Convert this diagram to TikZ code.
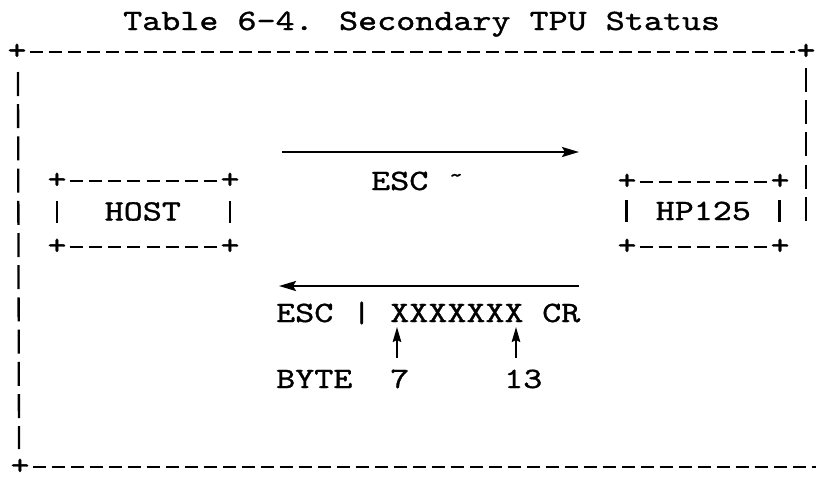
\documentclass[tikz,border=0pt]{standalone}
\usepackage{fontspec}
\usetikzlibrary{arrows.meta}
\newfontfamily\tw{lmmono10-regular.otf}[FakeStretch=1.23,FakeBold=1.1]
\tikzset{
  txt/.style={font=\tw\fontsize{29.5}{30}\selectfont, inner sep=0pt, anchor=base west},
  small/.style={font=\tw\fontsize{22}{22}\selectfont, inner sep=0pt, anchor=base},
  plus/.style={font=\tw\fontsize{29.5}{30}\selectfont, inner sep=0pt, anchor=center,
               text height=14.8pt, text depth=0pt},
  hrule/.style={line width=2.3pt, dash pattern=on 13pt off 6pt},
  vrule/.style={line width=2.3pt, dash pattern=on 24pt off 8.2pt},
  side/.style={line width=2.3pt},
  arr/.style={line width=2.3pt, -{Stealth[length=17pt,width=10pt,inset=3pt]}},
  uparr/.style={line width=1.9pt, -{Stealth[length=15pt,width=8.5pt,inset=2pt]}},
}
\begin{document}
\begin{tikzpicture}[x=1pt,y=-1pt]
\useasboundingbox (0,0) rectangle (816,479);
% title
\node[txt] (title) at (123,30) {Table 6-4. Secondary TPU Status};
% outer frame
\node[plus] (ptl) at (17,52) {+};
\node[plus] (ptr) at (806,52) {+};
\node[plus] (pbl) at (20,467) {+};
\coordinate (ft1) at (29.5,52);  \coordinate (ft2) at (795,52);
\coordinate (fb1) at (32.5,467); \coordinate (fb2) at (816,467);
\coordinate (fl1) at (18,72);    \coordinate (fl2) at (19,449);
\coordinate (fr1) at (806,68);   \coordinate (fr2) at (806,226);
\draw[hrule] (ft1) -- (ft2);
\draw[hrule] (fb1) -- (fb2);
\draw[vrule] (fl1) -- (fl2);
\draw[vrule] (fr1) -- (fr2);
% HOST box
\node[plus] (h1) at (57,181) {+};
\node[plus] (h2) at (230,181) {+};
\node[plus] (h3) at (57,247) {+};
\node[plus] (h4) at (230,247) {+};
\coordinate (ht1) at (69.7,181); \coordinate (ht2) at (217.3,181);
\coordinate (hb1) at (69.7,247); \coordinate (hb2) at (217.3,247);
\draw[hrule, dash pattern=on 13pt off 6.2pt] (ht1) -- (ht2);
\draw[hrule, dash pattern=on 13pt off 6.2pt] (hb1) -- (hb2);
\coordinate (hl1) at (57,201); \coordinate (hl2) at (57,223);
\coordinate (hr1) at (230,201); \coordinate (hr2) at (230,223);
\draw[side] (hl1) -- (hl2);
\draw[side] (hr1) -- (hr2);
\node[txt] (host) at (104.5,220.5) {HOST};
% HP125 box
\node[plus] (k1) at (627,182) {+};
\node[plus] (k2) at (780,182) {+};
\node[plus] (k3) at (627,247) {+};
\node[plus] (k4) at (780,247) {+};
\coordinate (kt1) at (639.6,182); \coordinate (kt2) at (767.4,182);
\coordinate (kb1) at (639.6,247); \coordinate (kb2) at (767.4,247);
\draw[hrule, dash pattern=on 13pt off 6.1pt] (kt1) -- (kt2);
\draw[hrule, dash pattern=on 13pt off 6.1pt] (kb1) -- (kb2);
\coordinate (kl1) at (626.5,200); \coordinate (kl2) at (626.5,222);
\coordinate (kr1) at (779.5,200); \coordinate (kr2) at (779.5,222);
\draw[side] (kl1) -- (kl2);
\draw[side] (kr1) -- (kr2);
\node[txt] (hp) at (655.5,220) {HP125};
% arrow to the right
\coordinate (a1s) at (282,152); \coordinate (a1e) at (579,152);
\draw[arr] (a1s) -- (a1e);
\node[txt] (esc1) at (371,190) {ESC};
\node[small] (tilde) at (456,182) {\textasciitilde};
% arrow to the left
\coordinate (a2s) at (579,286); \coordinate (a2e) at (279,286);
\draw[arr] (a2s) -- (a2e);
\node[txt] (esc2) at (276,322) {ESC};
\node[txt] (bar) at (352,322) {\textbar};
\node[txt] (xs) at (390,322) {XXXXXXX};
\node[txt] (cr) at (542,322) {CR};
% byte pointers
\coordinate (u1s) at (397,358); \coordinate (u1e) at (397,327);
\coordinate (u2s) at (516,358); \coordinate (u2e) at (516,327);
\draw[uparr] (u1s) -- (u1e);
\draw[uparr] (u2s) -- (u2e);
\node[txt] (byte) at (276,388) {BYTE};
\node[txt] (seven) at (390,388) {7};
\node[txt] (thirteen) at (504,388) {13};
\end{tikzpicture}
\end{document}
